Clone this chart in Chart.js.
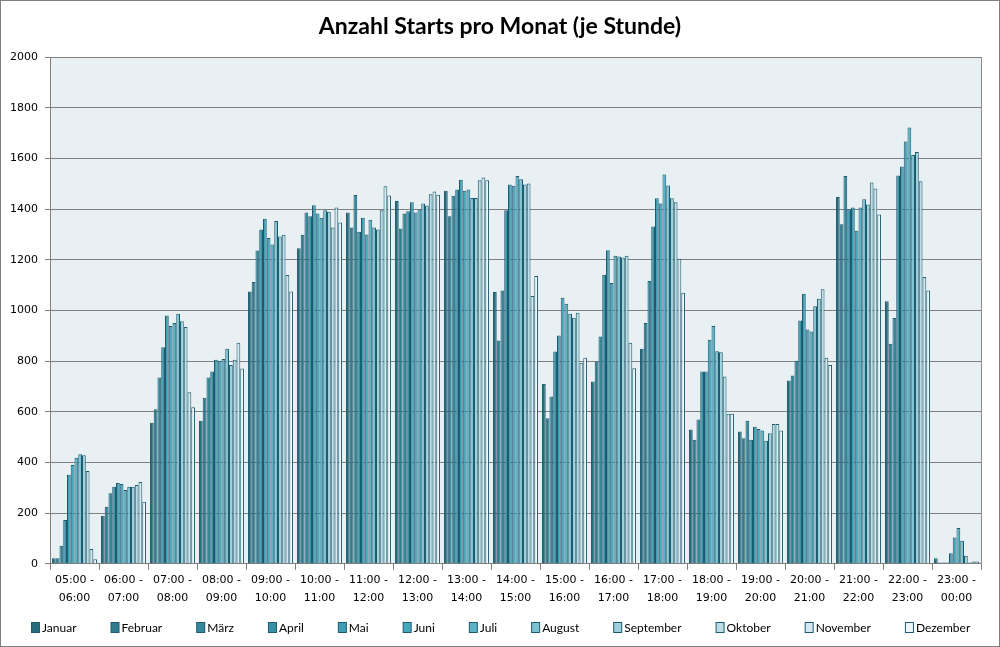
<!DOCTYPE html>
<html>
<head>
<meta charset="utf-8">
<script src="https://cdn.jsdelivr.net/npm/chart.js@4.4.1/dist/chart.umd.min.js"></script>
<style>
html,body{margin:0;padding:0;background:#fff;}
#wrap{width:1000px;height:647px;position:relative;}
</style>
</head>
<body>
<div id="wrap"><canvas id="c" width="1000" height="647"></canvas></div>
<script>
const chartTitle = 'Anzahl Starts pro Monat (je Stunde)';
const categories = [
  ['05:00 -','06:00'],['06:00 -','07:00'],['07:00 -','08:00'],['08:00 -','09:00'],
  ['09:00 -','10:00'],['10:00 -','11:00'],['11:00 -','12:00'],['12:00 -','13:00'],
  ['13:00 -','14:00'],['14:00 -','15:00'],['15:00 -','16:00'],['16:00 -','17:00'],
  ['17:00 -','18:00'],['18:00 -','19:00'],['19:00 -','20:00'],['20:00 -','21:00'],
  ['21:00 -','22:00'],['22:00 -','23:00'],['23:00 -','00:00']
];
const months = ['Januar','Februar','März','April','Mai','Juni','Juli','August','September','Oktober','November','Dezember'];

const januar    = [22,190,557,565,1075,1245,1386,1432,1472,1073,710,719,849,530,522,723,1448,1036,22];
const februar   = [22,225,610,655,1112,1299,1327,1323,1372,881,574,798,950,490,495,743,1340,868,5];
const maerz     = [71,278,735,735,1236,1386,1455,1382,1452,1079,660,897,1116,569,565,801,1530,970,5];
const april     = [173,304,855,759,1319,1372,1310,1391,1477,1395,838,1141,1331,759,490,960,1399,1532,5];
const mai       = [351,319,980,805,1362,1415,1366,1427,1516,1497,901,1237,1443,759,541,1066,1406,1568,42];
const juni      = [390,315,938,801,1286,1382,1300,1386,1472,1492,1050,1108,1422,884,532,925,1314,1667,104];
const juli      = [419,291,950,808,1260,1366,1358,1398,1477,1530,1026,1216,1536,938,526,917,1406,1722,141];
const august    = [432,304,987,849,1353,1395,1327,1422,1444,1518,987,1213,1493,839,486,1016,1439,1613,91];
const september = [428,304,957,785,1292,1389,1319,1414,1444,1497,971,1209,1443,835,515,1046,1418,1625,32];
const oktober   = [366,311,934,805,1299,1327,1395,1458,1514,1501,991,1216,1427,739,552,1083,1505,1510,5];
const november  = [58,323,677,872,1140,1406,1490,1469,1524,1057,793,872,1204,592,552,813,1481,1132,9];
const dezember  = [18,245,618,771,1075,1347,1453,1456,1514,1136,813,772,1070,592,526,785,1378,1079,9];

const seriesValues = [januar,februar,maerz,april,mai,juni,juli,august,september,oktober,november,dezember];
const yTicks = [0,200,400,600,800,1000,1200,1400,1600,1800,2000];

const fills = ['#2a6b7c','#307b8e','#35879c','#3991a7','#3f9eb4','#46a8bf','#5bb3c7','#7cc1d1','#9ed0dc','#badde6','#d5e9ef','#eef6f9'];
const borderCol = '#1d5b6d';

const datasets = months.map((m,i)=>({
  label: m,
  data: seriesValues[i],
  backgroundColor: fills[i],
  borderColor: borderCol,
  borderWidth: 1,
  borderSkipped: 'bottom',
  categoryPercentage: 0.92,
  barPercentage: 1.0
}));

const LEGEND_FONT = '12px Lato';
const bgPlugin = {
  id:'bg',
  beforeDraw(chart){
    const {ctx, chartArea:a} = chart;
    ctx.save();
    ctx.fillStyle = '#e8f0f4';
    ctx.fillRect(a.left, a.top, a.right-a.left, a.bottom-a.top);
    ctx.restore();
  },
  afterDraw(chart){
    const {ctx, chartArea:a} = chart;
    ctx.save();
    ctx.strokeStyle = '#8c8c8c';
    ctx.lineWidth = 1;
    ctx.beginPath();
    ctx.moveTo(Math.round(a.right)+0.5, a.top);
    ctx.lineTo(Math.round(a.right)+0.5, a.bottom);
    ctx.stroke();
    // title
    ctx.font = 'bold 23px Lato';
    ctx.fillStyle = '#000';
    ctx.textAlign = 'center';
    ctx.textBaseline = 'middle';
    ctx.fillText(chartTitle, chart.width/2, 27);
    // legend
    ctx.font = LEGEND_FONT;
    const box = 8, gapText = 3, gapItem = 34;
    const items = chart.data.datasets.map(d=>({label:d.label, fill:d.backgroundColor, border:d.borderColor, w: box+gapText+ctx.measureText(d.label).width}));
    const total = items.reduce((s,it)=>s+it.w,0) + gapItem*(items.length-1);
    let x = Math.round((chart.width - total)/2) + 1;
    const cy = 627;
    ctx.textBaseline = 'middle';
    ctx.textAlign = 'left';
    items.forEach(it=>{
      ctx.fillStyle = it.fill;
      ctx.fillRect(x+0.5, cy-5+0.5, box, 10);
      ctx.strokeStyle = it.border;
      ctx.strokeRect(x+0.5, cy-5+0.5, box, 10);
      ctx.fillStyle = '#000';
      ctx.fillText(it.label, x+box+gapText, cy+1);
      x += it.w + gapItem;
    });
    ctx.strokeStyle = '#7f7f7f';
    ctx.strokeRect(0.5,0.5,chart.width-1,chart.height-1);
    ctx.restore();
  }
};

new Chart(document.getElementById('c'), {
  type:'bar',
  data:{labels:categories, datasets},
  plugins:[bgPlugin],
  options:{
    responsive:false,
    animation:false,
    layout:{padding:{left:0,right:19,top:57,bottom:38}},
    plugins:{
      title:{display:false},
      legend:{display:false},
      tooltip:{enabled:false}
    },
    scales:{
      x:{
        offset:true,
        grid:{display:true,drawOnChartArea:false,drawTicks:true,tickLength:6,color:'#7f7f7f',offset:true},
        border:{display:true,color:'#7f7f7f'},
        ticks:{color:'#000',font:{family:'DejaVu Sans',size:11,lineHeight:1.6},maxRotation:0,autoSkip:false,padding:2}
      },
      y:{
        min:0,max:2000,
        afterBuildTicks(s){ s.ticks = yTicks.map(v=>({value:v})); },
        afterFit(s){ s.width = 50; },
        grid:{color:'#808080',tickLength:5,drawTicks:true},
        border:{display:true,color:'#7f7f7f'},
        ticks:{color:'#000',font:{family:'DejaVu Sans',size:11},padding:7,callback:v=>String(v)}
      }
    }
  }
});
</script>
</body>
</html>
